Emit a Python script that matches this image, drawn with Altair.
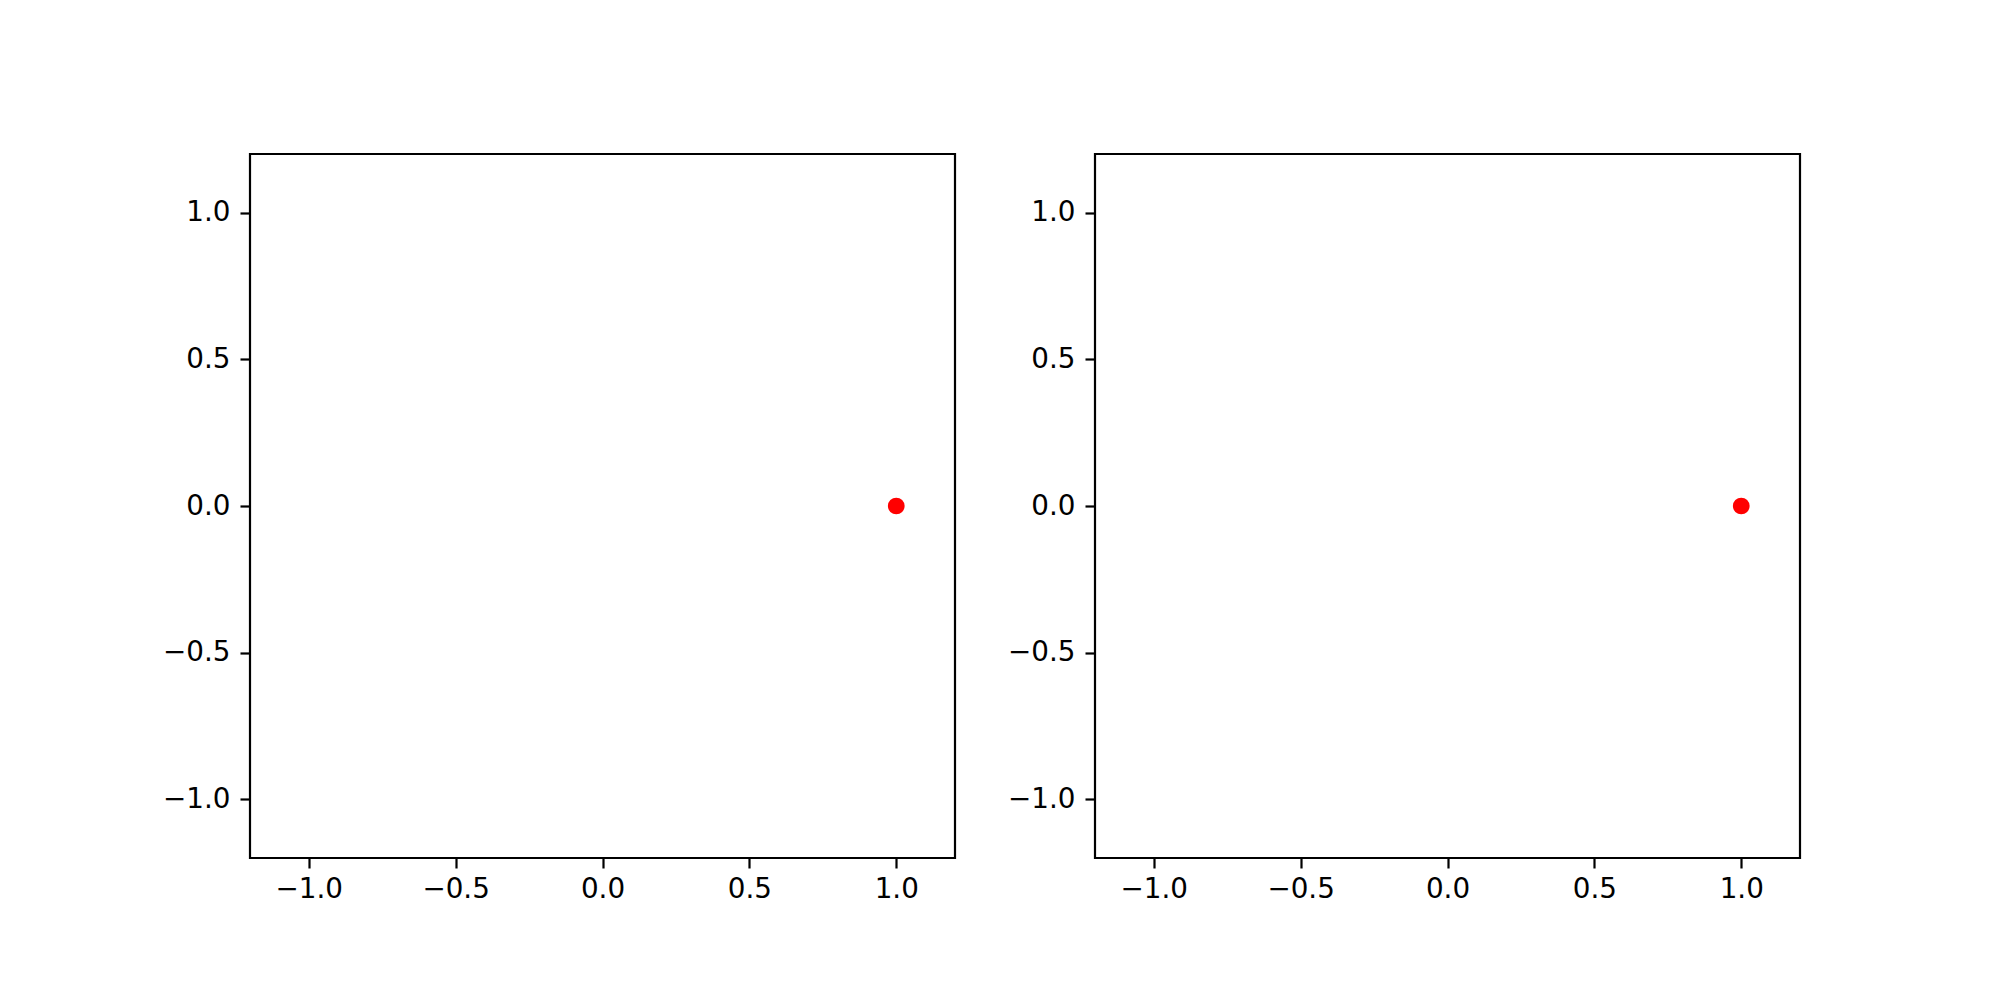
import altair as alt
import pandas as pd

xs = [1.0]
ys = [0.0]
tick_vals = [-1.0, -0.5, 0.0, 0.5, 1.0]

df = pd.DataFrame({"x": xs, "y": ys})

FONT = "DejaVu Sans"

def panel():
    return alt.Chart(df).mark_circle(color="#ff0000", opacity=1, size=280).encode(
        x=alt.X("x:Q", scale=alt.Scale(domain=[-1.2, 1.2], nice=False, zero=False),
                axis=alt.Axis(values=tick_vals, format=".1f", title=None, grid=False, domain=False,
                              tickColor="black", tickWidth=2.2, tickSize=10,
                              labelFont=FONT, labelFontSize=27.8, labelColor="black",
                              labelPadding=7, labelFlush=False, labelOverlap=False)),
        y=alt.Y("y:Q", scale=alt.Scale(domain=[-1.2, 1.2], nice=False, zero=False),
                axis=alt.Axis(values=tick_vals, format=".1f", title=None, grid=False, domain=False,
                              tickColor="black", tickWidth=2.2, tickSize=10,
                              labelFont=FONT, labelFontSize=27.8, labelColor="black",
                              labelPadding=10, labelFlush=False, labelOverlap=False,
                              minExtent=80, maxExtent=80)),
    ).properties(width=705, height=704)

chart = alt.hconcat(panel(), panel(), spacing=49).properties(
    padding={"left": 153, "top": 144, "right": 10, "bottom": 10}
).configure(background="white").configure_view(stroke="black", strokeWidth=2.2)

chart.save("out.html", embed_options={"renderer": "svg", "actions": False})
